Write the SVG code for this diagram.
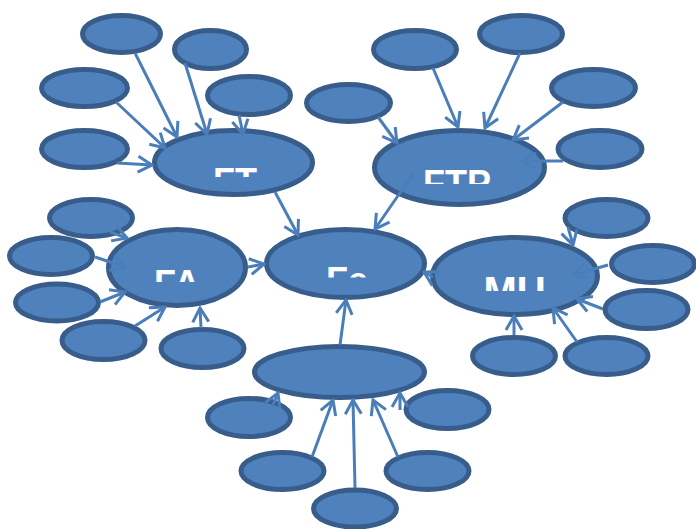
<svg xmlns="http://www.w3.org/2000/svg" width="696" height="529" viewBox="0 0 696 529">
  <defs>
    <style>
      .node ellipse { fill: #4f81bd; stroke: #385d8a; stroke-width: 5; }
      .edge { fill: none; stroke: #4a7ebb; stroke-width: 3; marker-end: url(#open-arrow); }
      .label { fill: #ffffff; font-family: "Liberation Sans", Arial, sans-serif; font-weight: bold; text-anchor: middle; }
    </style>
    <marker id="open-arrow" markerUnits="userSpaceOnUse" viewBox="-16 -10 18 20" refX="0" refY="0" markerWidth="18" markerHeight="20" orient="auto">
      <path d="M -14 -8 L 0 0 L -14 8" fill="none" stroke="#4a7ebb" stroke-width="3" stroke-linejoin="miter"/>
    </marker>
    <!-- labels only show their upper band -->
    <clipPath id="clip-ft"><rect x="190" y="150" width="90" height="27"/></clipPath>
    <clipPath id="clip-ftp"><rect x="400" y="150" width="110" height="34"/></clipPath>
    <clipPath id="clip-fe"><rect x="300" y="250" width="90" height="27.5"/></clipPath>
    <clipPath id="clip-fa"><rect x="130" y="250" width="95" height="32"/></clipPath>
    <clipPath id="clip-mu"><rect x="460" y="255" width="110" height="36"/></clipPath>
  </defs>

  <!-- hubs -->
  <g id="node-ft" class="node"><ellipse cx="233.5" cy="162.5" rx="79" ry="32"/>
    <text class="label" x="235" y="194" font-size="36" clip-path="url(#clip-ft)">FT</text></g>
  <g id="node-ftp" class="node"><ellipse cx="459.5" cy="167.5" rx="85" ry="37"/>
    <text class="label" x="457" y="196" font-size="36" clip-path="url(#clip-ftp)">FTP</text></g>
  <g id="node-fe" class="node"><ellipse cx="345.5" cy="263.5" rx="79" ry="34"/>
    <text class="label" x="347" y="293" font-size="36" clip-path="url(#clip-fe)">Fe</text></g>
  <g id="node-fa" class="node"><ellipse cx="177" cy="267.5" rx="68.5" ry="38"/>
    <text class="label" x="177" y="296" font-size="36" clip-path="url(#clip-fa)">FA</text></g>
  <g id="node-mu" class="node"><ellipse cx="515" cy="276" rx="82.5" ry="38.5"/>
    <text class="label" x="514.5" y="304.5" font-size="40" clip-path="url(#clip-mu)">MU</text></g>
  <g id="node-base" class="node"><ellipse cx="339.5" cy="372" rx="85" ry="25.5"/></g>

  <!-- leaves around FT -->
  <g id="leaf-ft-1" class="node"><ellipse cx="121.5" cy="34" rx="39" ry="18.5"/></g>
  <g id="leaf-ft-2" class="node"><ellipse cx="210.5" cy="49.5" rx="36" ry="19"/></g>
  <g id="leaf-ft-3" class="node"><ellipse cx="84.5" cy="88" rx="43" ry="18.5"/></g>
  <g id="leaf-ft-4" class="node"><ellipse cx="249" cy="95.5" rx="41.5" ry="19"/></g>
  <g id="leaf-ft-5" class="node"><ellipse cx="84.5" cy="149" rx="43" ry="18.5"/></g>

  <!-- leaves around FTP -->
  <g id="leaf-ftp-1" class="node"><ellipse cx="415" cy="49.5" rx="41.5" ry="19"/></g>
  <g id="leaf-ftp-2" class="node"><ellipse cx="521" cy="34" rx="41.5" ry="18.5"/></g>
  <g id="leaf-ftp-3" class="node"><ellipse cx="348.5" cy="103" rx="42" ry="18.5"/></g>
  <g id="leaf-ftp-4" class="node"><ellipse cx="593.5" cy="88" rx="42" ry="18.5"/></g>
  <g id="leaf-ftp-5" class="node"><ellipse cx="600" cy="149" rx="42" ry="18.5"/></g>

  <!-- leaves around FA -->
  <g id="leaf-fa-1" class="node"><ellipse cx="91" cy="218" rx="41.5" ry="18.5"/></g>
  <g id="leaf-fa-2" class="node"><ellipse cx="51" cy="256" rx="41.5" ry="18.5"/></g>
  <g id="leaf-fa-3" class="node"><ellipse cx="57" cy="302.5" rx="41.5" ry="18.5"/></g>
  <g id="leaf-fa-4" class="node"><ellipse cx="103.5" cy="340.5" rx="41.5" ry="19"/></g>
  <g id="leaf-fa-5" class="node"><ellipse cx="202.5" cy="348.5" rx="41.5" ry="19"/></g>

  <!-- leaves around MU -->
  <g id="leaf-mu-1" class="node"><ellipse cx="606.5" cy="218" rx="41.5" ry="18.5"/></g>
  <g id="leaf-mu-2" class="node"><ellipse cx="653" cy="264" rx="41.5" ry="18.5"/></g>
  <g id="leaf-mu-3" class="node"><ellipse cx="646.5" cy="309.5" rx="41.5" ry="19"/></g>
  <g id="leaf-mu-4" class="node"><ellipse cx="514" cy="356" rx="41.5" ry="18.5"/></g>
  <g id="leaf-mu-5" class="node"><ellipse cx="606.5" cy="356" rx="41.5" ry="18.5"/></g>

  <!-- leaves around the base hub -->
  <g id="leaf-base-1" class="node"><ellipse cx="249" cy="417.5" rx="41.5" ry="19"/></g>
  <g id="leaf-base-2" class="node"><ellipse cx="447.5" cy="409.5" rx="41.5" ry="19"/></g>
  <g id="leaf-base-3" class="node"><ellipse cx="282.5" cy="471" rx="41.5" ry="18.5"/></g>
  <g id="leaf-base-4" class="node"><ellipse cx="427.5" cy="471" rx="41.5" ry="18.5"/></g>
  <g id="leaf-base-5" class="node"><ellipse cx="355" cy="508.5" rx="41.5" ry="18.5"/></g>

  <!-- connectors -->
  <g id="connectors">
    <!-- into FT -->
    <line class="edge" x1="135" y1="53" x2="177" y2="137"/>
    <line class="edge" x1="185" y1="63" x2="207" y2="134"/>
    <line class="edge" x1="116" y1="102" x2="165" y2="148"/>
    <line class="edge" x1="239" y1="115" x2="243" y2="134"/>
    <line class="edge" x1="117" y1="163" x2="152" y2="165"/>
    <!-- into FTP -->
    <line class="edge" x1="433" y1="68" x2="458" y2="127"/>
    <line class="edge" x1="520" y1="53" x2="485" y2="128"/>
    <line class="edge" x1="378" y1="117" x2="397" y2="143"/>
    <line class="edge" x1="563" y1="102" x2="513" y2="140"/>
    <line class="edge" x1="563" y1="161" x2="522" y2="161"/>
    <!-- into FA -->
    <line class="edge" x1="110" y1="232" x2="127" y2="238"/>
    <line class="edge" x1="95" y1="257" x2="125" y2="267"/>
    <line class="edge" x1="100" y1="302" x2="125" y2="292"/>
    <line class="edge" x1="135" y1="326" x2="165" y2="307"/>
    <line class="edge" x1="201" y1="328" x2="200" y2="308"/>
    <!-- into MU -->
    <line class="edge" x1="568" y1="227" x2="573" y2="245"/>
    <line class="edge" x1="608" y1="265" x2="573" y2="275"/>
    <line class="edge" x1="603" y1="309" x2="577" y2="299"/>
    <line class="edge" x1="514" y1="335" x2="514" y2="316"/>
    <line class="edge" x1="577" y1="342" x2="553" y2="308"/>
    <!-- into the base hub -->
    <line class="edge" x1="272" y1="407" x2="278" y2="393"/>
    <line class="edge" x1="400" y1="410" x2="400" y2="393"/>
    <line class="edge" x1="312" y1="457" x2="333" y2="400"/>
    <line class="edge" x1="398" y1="457" x2="373" y2="400"/>
    <line class="edge" x1="355" y1="488" x2="353" y2="400"/>
    <!-- into Fe -->
    <line class="edge" x1="275" y1="192" x2="298" y2="235"/>
    <line class="edge" x1="413" y1="174" x2="375" y2="229"/>
    <line class="edge" x1="248" y1="267" x2="264" y2="264"/>
    <line class="edge" x1="433" y1="277" x2="424" y2="272"/>
    <line class="edge" x1="340" y1="345" x2="346" y2="300"/>
  </g>
</svg>
